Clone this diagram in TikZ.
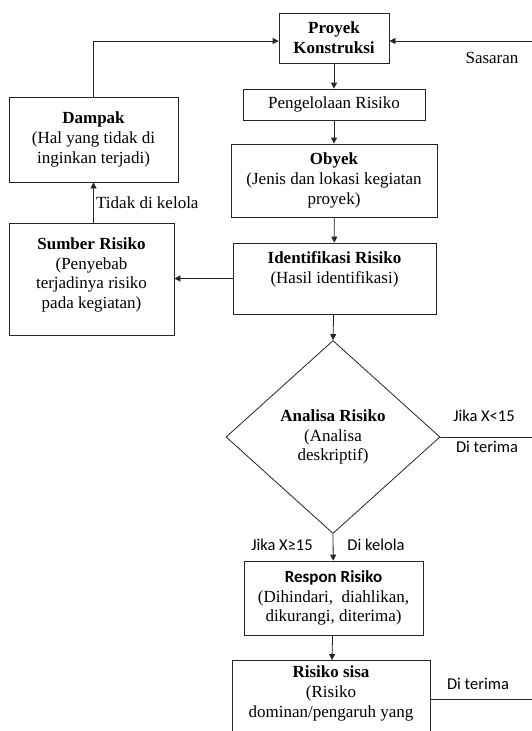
\documentclass[tikz,border=0pt]{standalone}
\usepackage{fontspec}
\setmainfont{Liberation Serif}
\newfontfamily\calibri{Carlito}
\usetikzlibrary{arrows.meta,shapes.geometric}
\begin{document}
\begin{tikzpicture}[x=1pt,y=-1pt,
  box/.style={draw=black!85, line width=0.8pt, align=center, inner sep=0pt, font=\fontsize{17}{19.8}\selectfont},
  arr/.style={draw=black!85, line width=0.8pt, -{Triangle[length=6pt,width=6pt]}},
  ln/.style={draw=black!85, line width=0.8pt},
  lbl/.style={font=\fontsize{17}{19.8}\selectfont, inner sep=0pt},
  slbl/.style={font=\calibri\fontsize{16.5}{19.8}\selectfont, inner sep=0pt}]
\clip (0,0) rectangle (532,731);
\fill[white] (0,0) rectangle (532,731);
% boxes
\node[box, minimum width=110pt, minimum height=50pt] (proyek) at (334,38) {\textbf{Proyek}\\\textbf{Konstruksi}};
\node[box, minimum width=182pt, minimum height=31pt] (peng) at (334,104.5) {Pengelolaan Risiko};
\node[box, minimum width=206pt, minimum height=73pt] (obyek) at (334,180.5) {\textbf{Obyek}\\(Jenis dan lokasi kegiatan\\proyek)};
\node[box, minimum width=203pt, minimum height=71pt] (ident) at (334.5,278.5) {\textbf{Identifikasi Risiko}\\(Hasil identifikasi)\\[2pt]~};
\node[box, minimum width=169pt, minimum height=85pt] (dampak) at (93.5,139.5) {\textbf{Dampak}\\(Hal yang tidak di\\inginkan terjadi)};
\node[box, minimum width=165pt, minimum height=112pt] (sumber) at (91.5,279) {\textbf{Sumber Risiko}\\(Penyebab\\terjadinya risiko\\pada kegiatan)\\[-8pt]~};
\node[box, shape=diamond, minimum width=214pt, minimum height=193pt] (analisa) at (333,437) {\textbf{Analisa Risiko}\\(Analisa\\deskriptif)};
\node[box, minimum width=179pt, minimum height=74pt] (respon) at (333.5,598) {{\calibri\bfseries Respon Risiko}\\(Dihindari,\ \ diahlikan,\\dikurangi, diterima)};
\node[box, minimum width=198pt, minimum height=78pt, anchor=north] (sisa) at (331,660) {\textbf{Risiko sisa}\\(Risiko\\dominan/pengaruh yang\\[-4pt]~};
% free ends
\coordinate (sasR) at (532,41);
\coordinate (anaR) at (532,437);
\coordinate (sisaR) at (532,699);
% connectors
\draw[arr] (proyek) -- (peng);
\draw[arr] (peng) -- (obyek);
\draw[arr] (obyek) -- (ident);
\draw[arr] (ident) -- (analisa.north);
\draw[arr] (analisa.south) -- (respon);
\draw[arr] (respon) -- (sisa);
\draw[arr] (ident.west) -- (ident.west -| sumber.east);
\draw[arr] (sumber.north -| dampak.south) -- (dampak.south);
\draw[arr] (dampak.north) |- (proyek.west |- sasR);
\draw[arr] (sasR) -- (proyek.east |- sasR);
\draw[ln] (analisa.east) -- (anaR);
\draw[ln] (sisa.east |- sisaR) -- (sisaR);
% labels
\node[lbl] (sasaran) at (492,58) {Sasaran};
\node[lbl, anchor=west] (tidak) at (96,203) {Tidak di kelola};
\node[slbl] (jkurang) at (484,416) {Jika X<15};
\node[slbl] (dterima1) at (487,447) {Di terima};
\node[slbl] (jlebih) at (282,545) {Jika X≥15};
\node[slbl] (dkelola) at (376,545) {Di kelola};
\node[slbl] (dterima2) at (478,684) {Di terima};
\end{tikzpicture}
\end{document}
